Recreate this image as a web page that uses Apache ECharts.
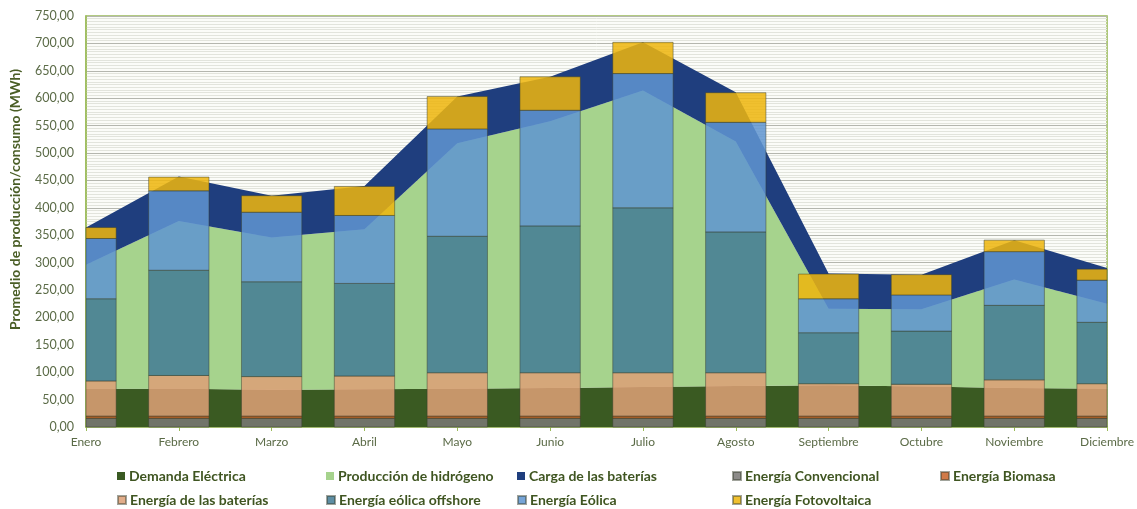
<!DOCTYPE html>
<html>
<head>
<meta charset="utf-8">
<script src="https://cdn.jsdelivr.net/npm/echarts@6/dist/echarts.min.js"></script>
<style>
  html, body { margin: 0; padding: 0; background: #ffffff; }
  #chart { width: 1137px; height: 509px; }
</style>
</head>
<body>
<div id="chart"></div>
<script>
// Months on the category axis
const months = ['Enero', 'Febrero', 'Marzo', 'Abril', 'Mayo', 'Junio', 'Julio',
  'Agosto', 'Septiembre', 'Octubre', 'Noviembre', 'Diciembre'];

// Consumption (stacked areas), MWh
const demandaElectrica = [70, 70, 68, 69, 70, 71, 73, 75, 76, 74, 71, 70];
const produccionHidrogeno = [226, 306, 278, 292, 448, 487, 541, 446, 140, 141, 198, 155];
const cargaBaterias = [68, 81, 76, 79, 85, 81, 88, 90, 64, 63, 72, 65];

// Production (stacked bars), MWh
const energiaConvencional = [16, 16, 16, 16, 16, 16, 16, 16, 16, 16, 16, 16];
const energiaBiomasa = [4, 4, 4, 4, 4, 4, 4, 4, 4, 4, 4, 4];
const energiaBaterias = [64, 74, 72, 73, 79, 79, 79, 79, 59, 58, 66, 59];
const energiaOffshore = [150, 192, 173, 169, 249, 268, 301, 257, 93, 97, 136, 112];
const energiaEolica = [110, 145, 127, 124, 196, 211, 245, 200, 62, 66, 98, 77];
const energiaFotovoltaica = [20, 25, 30, 53, 59, 61, 57, 54, 45, 37, 21, 20];

// Y axis ticks
const yMin = 0, yMax = 750, yStep = 50;

const FONT = 'Lato, "Open Sans", sans-serif';
const TEXT = '#5b6b47';
const TITLE = '#4a5e26';
const BAR_RATIO = 0.65;

function areaSeries(name, data, color) {
  return {
    name, type: 'line', stack: 'consumo', data,
    symbol: 'none', showSymbol: false,
    lineStyle: { width: 0 },
    areaStyle: { color, opacity: 1 },
    itemStyle: { color },
    emphasis: { disabled: true },
    z: 1
  };
}

// Bars sit on the month ticks (axis without boundary gap), so they are drawn
// as custom rects clipped to the plot area: the first and last month show half a bar.
function renderBar(params, api) {
  const i = api.value(0);
  const lo = api.value(1);
  const hi = api.value(2);
  const pLo = api.coord([i, lo]);
  const pHi = api.coord([i, hi]);
  const w = api.size([1, 0])[0] * BAR_RATIO;
  const cs = params.coordSys;
  const shape = echarts.graphic.clipRectByRect(
    { x: pLo[0] - w / 2, y: pHi[1], width: w, height: pLo[1] - pHi[1] },
    { x: cs.x, y: cs.y, width: cs.width, height: cs.height }
  );
  if (!shape) return null;
  return { type: 'rect', shape, style: api.style() };
}

const barStack = [];
const cumulative = months.map(() => 0);

function barSeries(name, values, color) {
  const data = values.map((v, i) => {
    const lo = cumulative[i];
    cumulative[i] += v;
    return [i, lo, cumulative[i], v];
  });
  return {
    name, type: 'custom', renderItem: renderBar, data,
    encode: { x: 0, y: [1, 2] },
    itemStyle: { color, opacity: 0.86, borderColor: 'rgba(55,62,45,0.55)', borderWidth: 1 },
    emphasis: { disabled: true },
    z: 3
  };
}

barStack.push(
  barSeries('Energía Convencional', energiaConvencional, '#7a7876'),
  barSeries('Energía Biomasa', energiaBiomasa, '#c8642a'),
  barSeries('Energía de las baterías', energiaBaterias, '#dd9f77'),
  barSeries('Energía eólica offshore', energiaOffshore, '#437b95'),
  barSeries('Energía Eólica', energiaEolica, '#6095d0'),
  barSeries('Energía Fotovoltaica', energiaFotovoltaica, '#eeb60e')
);

// Legend laid out as fixed columns, two rows
const legendItems = [
  ['Demanda Eléctrica', 112, 464],
  ['Producción de hidrógeno', 321, 464],
  ['Carga de las baterías', 512, 464],
  ['Energía Convencional', 727, 464],
  ['Energía Biomasa', 935, 464],
  ['Energía de las baterías', 112, 488],
  ['Energía eólica offshore', 321, 488],
  ['Energía Eólica', 512, 488],
  ['Energía Fotovoltaica', 727, 488]
];

const chart = echarts.init(document.getElementById('chart'), null, { renderer: 'canvas' });

chart.setOption({
  animation: false,
  backgroundColor: '#ffffff',
  textStyle: { fontFamily: FONT },
  grid: {
    left: 82, right: 27, top: 16, bottom: 82,
    show: true, backgroundColor: '#fbfcf8',
    borderColor: '#9bbb59', borderWidth: 1.5
  },
  legend: legendItems.map(([name, left, top]) => ({
    data: [name], left, top,
    icon: 'rect', itemWidth: 8, itemHeight: 8, itemGap: 4,
    selectedMode: false,
    textStyle: { fontFamily: FONT, fontSize: 14, fontWeight: 'bold', color: '#3f5521', padding: [0, 0, 0, -1] }
  })),
  xAxis: {
    type: 'category', data: months, boundaryGap: false,
    axisLine: { lineStyle: { color: '#9bbb59', width: 1.5 } },
    axisTick: { show: true, length: 4, lineStyle: { color: '#9bbb59' } },
    axisLabel: { color: TEXT, fontSize: 12, fontFamily: FONT, margin: 9 },
    splitLine: { show: false }
  },
  yAxis: {
    type: 'value', min: yMin, max: yMax, interval: yStep,
    name: 'Promedio de producción/consumo (MWh)',
    nameLocation: 'middle', nameGap: 64, nameRotate: 90,
    nameTextStyle: { color: TITLE, fontSize: 14, fontWeight: 'bold', fontFamily: FONT, padding: [0, 0, 0, 44] },
    axisLine: { show: true, lineStyle: { color: '#9bbb59', width: 1.5 } },
    axisTick: { show: false },
    axisLabel: {
      color: TEXT, fontSize: 12.5, fontFamily: FONT, margin: 12,
      formatter: v => v.toFixed(2).replace('.', ',')
    },
    splitLine: { show: true, lineStyle: { color: '#b4b6ae', width: 1 } },
    minorTick: { show: false, splitNumber: 10 },
    minorSplitLine: { show: true, lineStyle: { color: '#e2e4dc', width: 1 } }
  },
  series: [
    areaSeries('Demanda Eléctrica', demandaElectrica, '#3a5a22'),
    areaSeries('Producción de hidrógeno', produccionHidrogeno, '#a6d38d'),
    areaSeries('Carga de las baterías', cargaBaterias, '#1f3e7e'),
    ...barStack
  ]
});
</script>
</body>
</html>
